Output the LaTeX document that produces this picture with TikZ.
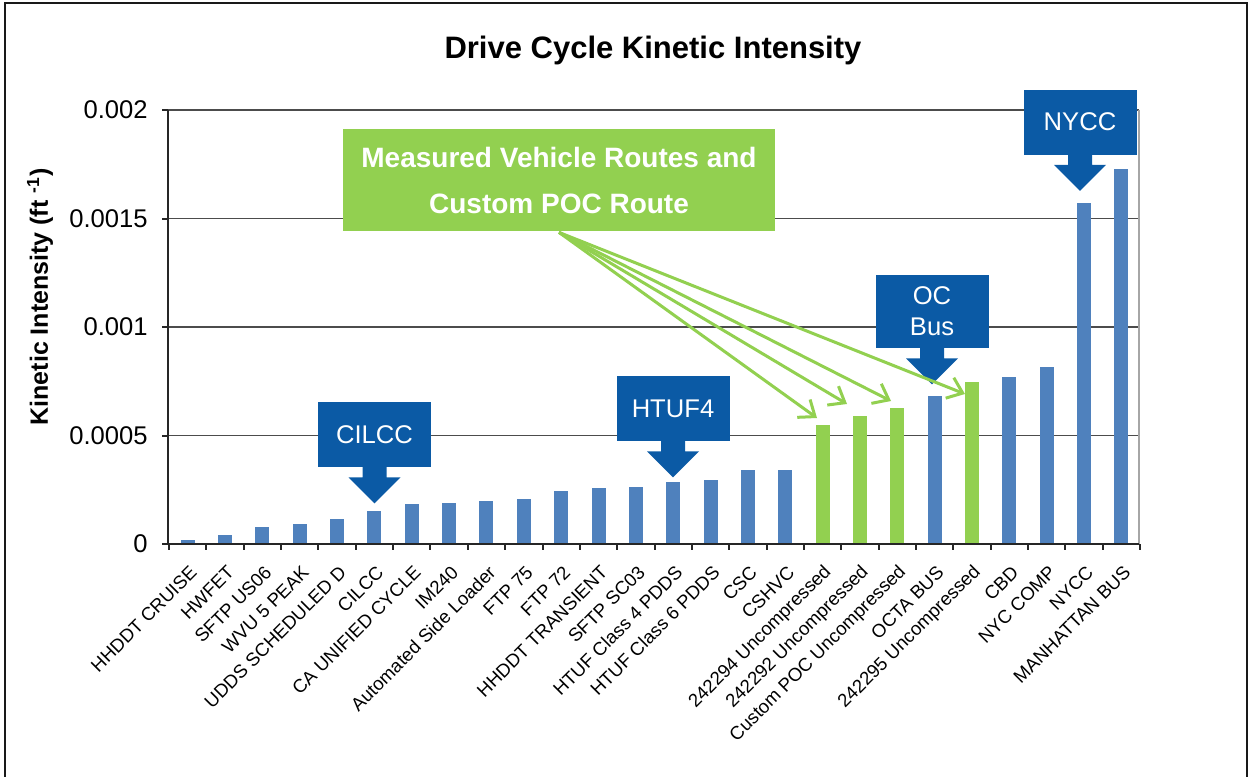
\documentclass[tikz,border=0pt]{standalone}
\usepackage{fontspec}
\setmainfont{Liberation Sans}
\usepackage{xcolor}
\usepackage{tikz}
\usetikzlibrary{arrows.meta,calc}
\definecolor{BarBlue}{HTML}{4F81BD}
\definecolor{BarGreen}{HTML}{92D050}
\definecolor{CalloutBlue}{HTML}{0B5AA5}

\begin{document}
\begin{tikzpicture}[
  x=0.5pt, y=-0.5pt,
  callout/.style={fill=CalloutBlue,text=white,minimum width=56.5pt,minimum height=32.5pt,
    inner sep=2pt,align=center,font=\fontsize{12.8}{15.5}\selectfont},
  greenbox/.style={fill=BarGreen,text=white,minimum width=216pt,minimum height=51pt,
    align=center,font=\bfseries\fontsize{14}{23}\selectfont},
  xlab/.style={font=\fontsize{9.3}{11}\selectfont,rotate=45,anchor=east,inner sep=0pt},
  ylab/.style={font=\fontsize{12.8}{15}\selectfont,anchor=east,inner sep=0pt},
  gridline/.style={draw=black!70,line width=0.6pt},
  axisline/.style={draw=black!85,line width=1pt},
  pointer/.style={draw=BarGreen,line width=1.5pt,-{Straight Barb[length=7pt,width=11pt]}}
]
  \useasboundingbox (0,0) rectangle (1249,777);
  % outer frame
  \draw[line width=1pt,black!90] (5,777) -- (5,3) -- (1246.5,3) -- (1246.5,777);

  \node[font=\bfseries\fontsize{15.5}{18}\selectfont] (title) at (653,50) {Drive Cycle Kinetic Intensity};

  % grid and axes
  \foreach \v/\lab in {1/0.0005,2/0.001,3/0.0015,4/0.002} {
    \draw[gridline] (162,{544-108.5*\v}) -- (1139,{544-108.5*\v});
  }
  \foreach \v/\lab in {0/0,1/0.0005,2/0.001,3/0.0015,4/0.002} {
    \node[ylab] (y\v) at (148,{544-108.5*\v}) {\lab};
  }
  \draw[black!35,line width=0.6pt] (1139,110) -- (1139,544);
  \node[font=\bfseries\fontsize{12.5}{15}\selectfont,rotate=90] (ytitle) at (40,297) {Kinetic Intensity (ft \textsuperscript{-1})};

  % bars
  \foreach \val/\name/\col [count=\i from 0] in {
    0.2/HHDDT CRUISE/BarBlue, 0.42/HWFET/BarBlue, 0.8/SFTP US06/BarBlue,
    0.94/WVU 5 PEAK/BarBlue, 1.17/UDDS SCHEDULED D/BarBlue, 1.52/CILCC/BarBlue,
    1.83/CA UNIFIED CYCLE/BarBlue, 1.9/IM240/BarBlue, 1.98/Automated Side Loader/BarBlue,
    2.06/FTP 75/BarBlue, 2.43/FTP 72/BarBlue, 2.57/HHDDT TRANSIENT/BarBlue,
    2.64/SFTP SC03/BarBlue, 2.87/HTUF Class 4 PDDS/BarBlue, 2.95/HTUF Class 6 PDDS/BarBlue,
    3.4/CSC/BarBlue, 3.4/CSHVC/BarBlue, 5.47/242294 Uncompressed/BarGreen,
    5.91/242292 Uncompressed/BarGreen, 6.28/Custom POC Uncompressed/BarGreen,
    6.82/OCTA BUS/BarBlue, 7.47/242295 Uncompressed/BarGreen, 7.7/CBD/BarBlue,
    8.14/NYC COMP/BarBlue, 15.71/NYCC/BarBlue, 17.28/MANHATTAN BUS/BarBlue} {
    \pgfmathsetmacro\xc{169+37.35*(\i+0.5)}
    \fill[\col] ({\xc-7},544) rectangle ({\xc+7},{544-21.7*\val});
    \coordinate (b\i) at (\xc,{544-21.7*\val});
    \node[xlab] (l\i) at ({\xc+6},569) {\name};
  }

  \draw[axisline] (168,110) -- (168,544) -- (1139,544);
  \foreach \k in {0,...,26} {
    \draw[axisline] ({169+37.35*\k},544) -- ({169+37.35*\k},550);
  }
  \foreach \v in {0,...,4} {
    \draw[axisline] (162,{544-108.5*\v}) -- (168,{544-108.5*\v});
  }

  % callouts
  \node[callout] (cilcc) at (374.5,434.5) {CILCC};
  \node[callout] (htuf) at (673,408.5) {HTUF4};
  \node[callout,minimum height=36.5pt] (ocbus) at (932,311.5) {OC\\Bus};
  \node[callout] (nycc) at (1080,122) {NYCC};
  \foreach \c in {cilcc,htuf,ocbus,nycc} {
    \fill[CalloutBlue] (\c.south) ++(-12,-1) -- ++(0,11) -- ++(-14,0) -- ++(26,26)
      -- ++(26,-26) -- ++(-14,0) -- ++(0,-11) -- cycle;
  }

  % measured routes
  \node[greenbox] (mvr) at (559,180) {Measured Vehicle Routes and\\Custom POC Route};
  \coordinate (t1) at (817,418);
  \coordinate (t2) at (847,404);
  \coordinate (t3) at (891,401);
  \coordinate (t4) at (965,394);
  \foreach \t in {t1,t2,t3,t4} {
    \draw[pointer] ($(mvr.south)+(0,1)$) -- (\t);
  }
\end{tikzpicture}
\end{document}
